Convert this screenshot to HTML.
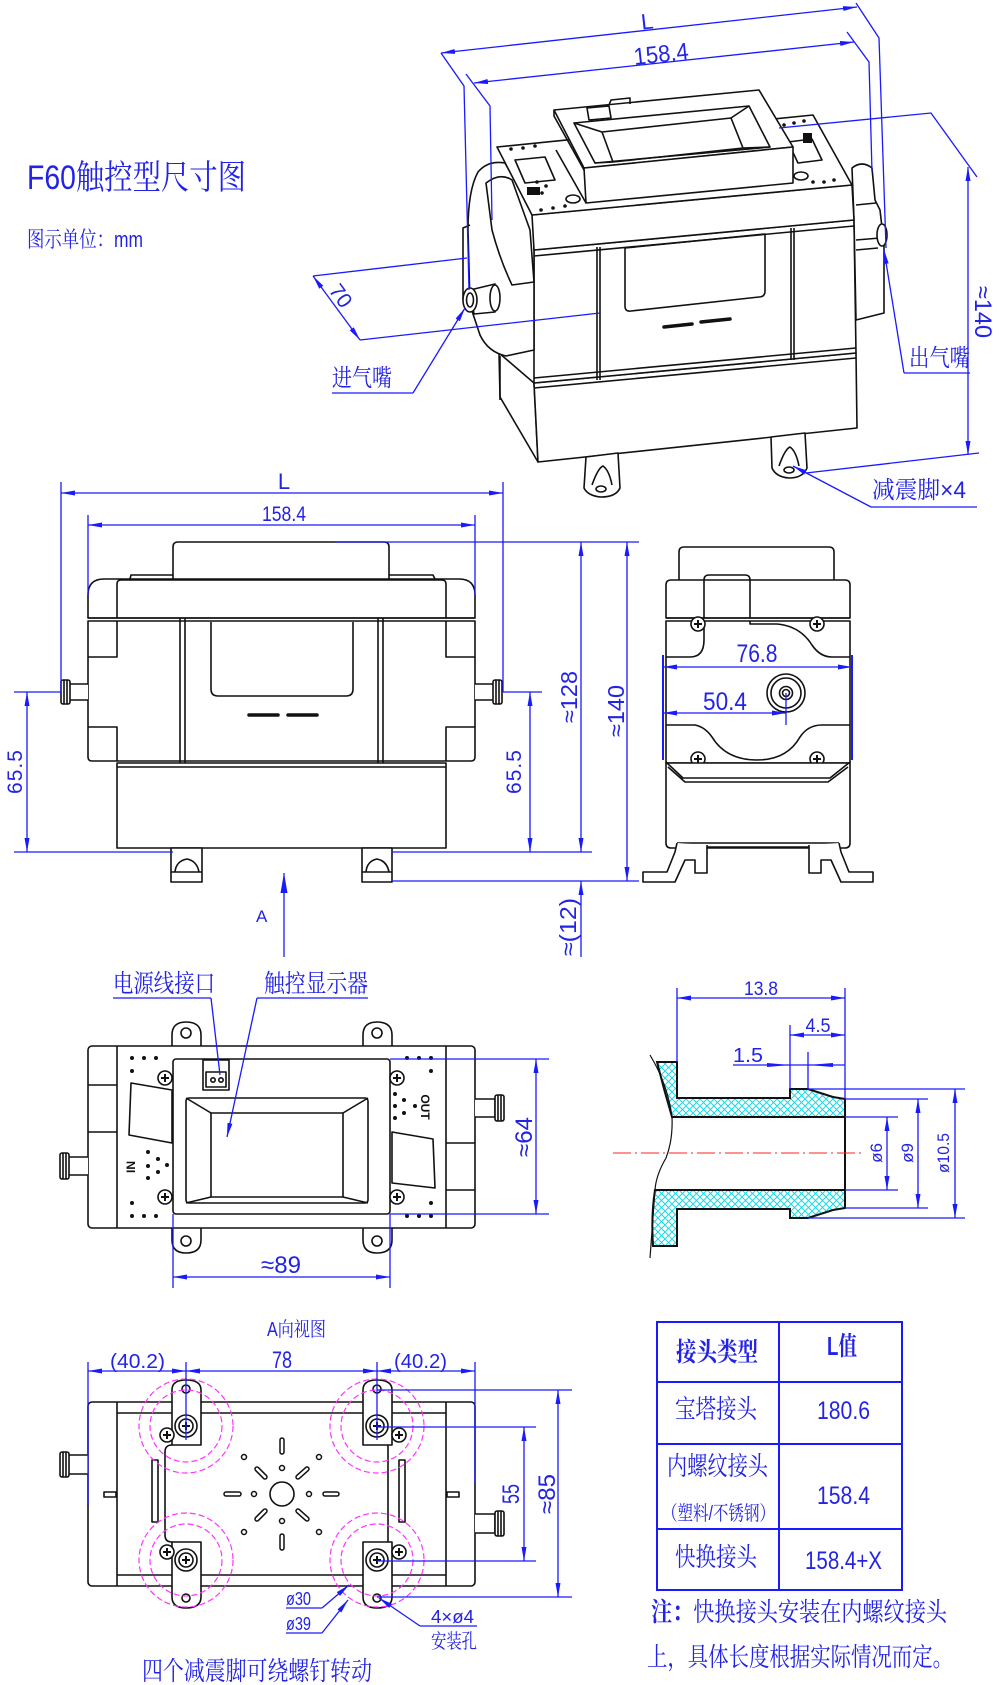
<!DOCTYPE html>
<html><head><meta charset="utf-8"><style>
html,body{margin:0;padding:0;background:#fff;}
svg{display:block;}
text{font-family:"Liberation Sans","Noto Serif CJK SC",serif;fill:#2323e6;}
.k{fill:none;stroke:#111;stroke-width:1.6;stroke-linejoin:round;}
.kw{fill:#fff;stroke:#111;stroke-width:1.6;stroke-linejoin:round;}
.b{fill:none;stroke:#1a1aff;stroke-width:1.3;}
.ba{fill:none;stroke:#1a1aff;stroke-width:1.3;marker-start:url(#ar);marker-end:url(#ar);}
.be{fill:none;stroke:#1a1aff;stroke-width:1.3;marker-end:url(#ar);}
.m{fill:none;stroke:#ff33ff;stroke-width:1.2;stroke-dasharray:6 3;}
</style></head><body>
<svg width="1000" height="1685" viewBox="0 0 1000 1685" xmlns="http://www.w3.org/2000/svg">
<defs>
<marker id="ar" viewBox="0 0 14 5" refX="14" refY="2.5" markerWidth="14" markerHeight="5" markerUnits="userSpaceOnUse" orient="auto-start-reverse"><path d="M0,0 L14,2.5 L0,5 z" fill="#1a1aff"/></marker>
<marker id="big" viewBox="0 0 20 7" refX="20" refY="3.5" markerWidth="20" markerHeight="7" markerUnits="userSpaceOnUse" orient="auto"><path d="M0,0 L20,3.5 L0,7 z" fill="#1a1aff"/></marker>
<pattern id="hx" patternUnits="userSpaceOnUse" width="7" height="7"><path d="M0,0 L7,7 M7,0 L0,7" stroke="#19d9e6" stroke-width="1"/></pattern>
<g id="scr"><circle r="7" fill="#fff" stroke="#111" stroke-width="1.6"/><path d="M-4,0 H4 M0,-4 V4" stroke="#111" stroke-width="2"/></g>
</defs>

<!-- Title -->
<text x="27" y="189" font-size="34" textLength="219" lengthAdjust="spacingAndGlyphs">F60触控型尺寸图</text>
<text x="27" y="247" font-size="22" textLength="116" lengthAdjust="spacingAndGlyphs">图示单位：mm</text>

<!-- ================= ISOMETRIC VIEW ================= -->
<g>
<polygon class="kw" points="499,353 534,383 538,462 500,397"/>
<polygon class="kw" points="534,383 856,353 857,428 538,462"/>
<polygon class="kw" points="534,250 854,220 856,353 534,383"/>
<path class="k" d="M534,256 L854,226 M534,378 L856,348 M534,388 L856,358"/>
<path class="k" d="M597,247 L597,380 M600,247 L600,380 M791,228 L791,360 M794,228 L794,360"/>
<path class="k" d="M625,248 L765,234 L765,291 Q765,297 759,297 L631,311 Q625,312 625,306 Z"/>
<path d="M664,327 L692,324 M701,322 L730,319" stroke="#111" stroke-width="3.5" stroke-linecap="round"/>
<path class="kw" d="M534,215 L534,350 L506,356 Q488,352 480,335 L470,305 L468,230 Q468,190 478,172 Q488,160 505,163 L520,190 Z"/>
<path class="k" d="M486,183 Q500,172 512,180 L530,230 L534,282 L512,285 Q500,260 492,230 Z"/>
<path class="k" d="M470,225 L463,228 L463,300 M500,356 L500,400"/>
<path class="kw" d="M470,290 L495,284 L495,312 L474,314 Z"/>
<ellipse cx="495" cy="298" rx="5" ry="13" class="kw"/>
<ellipse cx="470" cy="300" rx="7" ry="12" class="kw"/>
<ellipse cx="470" cy="300" rx="3.5" ry="7" class="k"/>
<path class="kw" d="M852,168 Q862,160 872,168 L875,200 L880,210 L884,245 L884,313 L856,320 L854,220 Z"/>
<path class="k" d="M856,205 L876,203 M856,240 L880,238 M856,250 L878,248"/>
<ellipse cx="882" cy="235" rx="5" ry="11" class="kw"/>
<polygon class="kw" points="532,215 852,185 854,220 534,250"/>
<polygon class="kw" points="497,147 813,115 852,185 532,215"/>
<path class="k" d="M515,160 L545,157 L555,180 L525,183 Z M788,142 L812,139 L822,160 L798,163 Z"/>
<polygon class="kw" points="554,110 759,90 793,147 584,168"/>
<polygon class="kw" points="584,168 793,147 793,183 586,203"/>
<path class="k" d="M554,110 L554,116 L584,170 M586,203 L556,150"/>
<polygon class="k" points="574,123 749,106 770,147 595,163"/>
<polygon class="k" points="602,132 731,118 743,148 613,162"/>
<path class="k" d="M574,123 L602,132 M749,106 L731,118 M770,147 L743,148 M595,163 L613,162"/>
<path class="kw" d="M587,108 L609,106 L611,118 L589,120 Z"/>
<path class="k" d="M609,105 L611,100 L630,98 L630,104"/>
<g fill="#111">
<circle cx="511" cy="149" r="1.8"/><circle cx="523" cy="148" r="1.8"/><circle cx="535" cy="146" r="1.8"/>
<circle cx="537" cy="182" r="1.8"/><circle cx="546" cy="186" r="1.8"/><circle cx="542" cy="193" r="1.8"/>
<circle cx="541" cy="210" r="1.8"/><circle cx="553" cy="208" r="1.8"/><circle cx="565" cy="206" r="1.8"/>
<circle cx="784" cy="125" r="1.8"/><circle cx="794" cy="123" r="1.8"/><circle cx="804" cy="121" r="1.8"/>
<circle cx="813" cy="182" r="1.8"/><circle cx="824" cy="182" r="1.8"/><circle cx="834" cy="180" r="1.8"/>
<rect x="527" y="187" width="13" height="8"/><rect x="803" y="133" width="9" height="10"/>
</g>
<ellipse cx="573" cy="199" rx="7" ry="4" class="k"/>
<ellipse cx="801" cy="176" rx="7" ry="4" class="k"/>
<path class="kw" d="M586,457 L618,453 L620,488 Q616,497 601,497 Q588,496 584,488 Z"/>
<path class="k" d="M592,485 Q598,468 603,466 Q609,470 612,485"/>
<ellipse cx="601" cy="489" rx="5" ry="3" class="k"/>
<path class="kw" d="M771,437 L805,433 L807,468 Q803,478 789,478 Q776,477 772,468 Z"/>
<path class="k" d="M779,466 Q785,449 790,447 Q796,451 799,466"/>
<ellipse cx="789" cy="470" rx="5" ry="3" class="k"/>
</g>
<line class="ba" x1="441" y1="53" x2="857" y2="7"/>
<text transform="translate(648,29) rotate(-6.3)" font-size="22" text-anchor="middle">L</text>
<line class="ba" x1="474" y1="83" x2="854" y2="42"/>
<text transform="translate(662,62) rotate(-6.2)" font-size="24" text-anchor="middle" textLength="55" lengthAdjust="spacingAndGlyphs">158.4</text>
<polyline class="b" points="441,53 464,86 469,290"/>
<polyline class="b" points="466,74 490,106 492,220"/>
<polyline class="b" points="856,3 879,38 886,248"/>
<polyline class="b" points="847,32 869,62 872,172"/>
<line class="b" x1="313" y1="276" x2="467" y2="258"/>
<line class="b" x1="360" y1="340" x2="600" y2="313"/>
<line class="ba" x1="313" y1="276" x2="360" y2="340"/>
<text transform="translate(335,300) rotate(54)" font-size="21" text-anchor="middle">70</text>
<text x="332" y="386" font-size="24" textLength="60" lengthAdjust="spacingAndGlyphs">进气嘴</text>
<line class="b" x1="332" y1="393" x2="413" y2="393"/>
<line class="be" x1="413" y1="393" x2="465" y2="308"/>
<text x="909" y="366" font-size="24" textLength="61" lengthAdjust="spacingAndGlyphs">出气嘴</text>
<line class="b" x1="904" y1="373" x2="970" y2="373"/>
<line class="be" x1="904" y1="373" x2="884" y2="250"/>
<polyline class="b" points="779,128 931,113 977,177"/>
<line class="b" x1="806" y1="473" x2="979" y2="453"/>
<line class="ba" x1="968" y1="167" x2="968" y2="455"/>
<text transform="translate(975,312) rotate(90)" font-size="24" text-anchor="middle" textLength="52" lengthAdjust="spacingAndGlyphs">≈140</text>
<text x="872" y="498" font-size="24" textLength="94" lengthAdjust="spacingAndGlyphs">减震脚×4</text>
<line class="b" x1="871" y1="507" x2="977" y2="507"/>
<line class="be" x1="871" y1="507" x2="793" y2="466"/>

<!-- ================= FRONT VIEW ================= -->
<g>
<path class="kw" d="M173,579 L173,547 Q173,542 178,542 L384,542 Q389,542 389,547 L389,579"/>
<path class="k" d="M130,579 L131,575 L173,575 M389,575 L433,575 L435,579"/>
<path class="kw" d="M88,618 L88,595 Q88,579 104,579 L459,579 Q475,579 475,595 L475,618 Z"/>
<path class="k" d="M117,618 L117,584 Q117,580 121,580 L442,580 Q446,580 446,584 L446,618"/>
<path class="kw" d="M88,621 L88,757 Q88,761 92,761 L471,761 Q475,761 475,757 L475,621 Z"/>
<path class="k" d="M88,618 L475,618"/>
<path class="k" d="M88,657 L117,657 L117,621 M88,727 L117,727 L117,761 M475,657 L446,657 L446,621 M475,727 L446,727 L446,761"/>
<path class="k" d="M180,618 L180,767 M185,618 L185,767 M378,618 L378,767 M383,618 L383,767"/>
<path class="k" d="M211,622 L211,689 Q211,696 218,696 L346,696 Q353,696 353,689 L353,622"/>
<path d="M249,715 L278,715 M288,715 L317,715" stroke="#111" stroke-width="3.5" stroke-linecap="round"/>
<rect x="117" y="763" width="329" height="85" class="kw"/>
<line class="k" x1="117" y1="767" x2="446" y2="767"/>
<rect x="171" y="848" width="31" height="34" class="kw"/>
<path class="k" d="M171,872 L202,872 M175,872 Q176,861 187,859 Q197,861 199,872"/>
<rect x="362" y="848" width="30" height="34" class="kw"/>
<path class="k" d="M362,872 L392,872 M366,872 Q367,861 377,859 Q387,861 389,872"/>
<path class="kw" d="M88,684 L69,684 L69,700 L88,700"/>
<rect x="61" y="680" width="9" height="24" rx="2" class="kw"/>
<path class="k" d="M64,680 L64,704 M67,680 L67,704"/>
<path class="kw" d="M475,684 L494,684 L494,700 L475,700"/>
<rect x="493" y="680" width="9" height="24" rx="2" class="kw"/>
<path class="k" d="M496,680 L496,704 M499,680 L499,704"/>
</g>
<line class="ba" x1="61" y1="493" x2="503" y2="493"/>
<text x="284" y="489" font-size="22" text-anchor="middle">L</text>
<line class="b" x1="61" y1="482" x2="61" y2="692"/>
<line class="b" x1="503" y1="482" x2="503" y2="692"/>
<line class="ba" x1="88" y1="525" x2="475" y2="525"/>
<text x="284" y="521" font-size="21" text-anchor="middle" textLength="44" lengthAdjust="spacingAndGlyphs">158.4</text>
<line class="b" x1="88" y1="515" x2="88" y2="595"/>
<line class="b" x1="475" y1="515" x2="475" y2="595"/>
<line class="b" x1="14" y1="692" x2="61" y2="692"/>
<line class="b" x1="14" y1="852" x2="173" y2="852"/>
<line class="ba" x1="27" y1="692" x2="27" y2="852"/>
<text transform="translate(22,772) rotate(-90)" font-size="21" text-anchor="middle" textLength="44" lengthAdjust="spacing">65.5</text>
<line class="b" x1="503" y1="692" x2="542" y2="692"/>
<line class="ba" x1="530" y1="692" x2="530" y2="852"/>
<text transform="translate(521,772) rotate(-90)" font-size="21" text-anchor="middle" textLength="44" lengthAdjust="spacing">65.5</text>
<line class="b" x1="392" y1="852" x2="592" y2="852"/>
<line class="b" x1="335" y1="542" x2="639" y2="542"/>
<line class="b" x1="392" y1="881" x2="639" y2="881"/>
<line class="ba" x1="581" y1="542" x2="581" y2="852"/>
<text transform="translate(577,697) rotate(-90)" font-size="23" text-anchor="middle" textLength="52" lengthAdjust="spacingAndGlyphs">≈128</text>
<line class="ba" x1="627" y1="542" x2="627" y2="881"/>
<text transform="translate(624,711) rotate(-90)" font-size="23" text-anchor="middle" textLength="52" lengthAdjust="spacingAndGlyphs">≈140</text>
<line class="be" x1="581" y1="957" x2="581" y2="881"/>
<text transform="translate(576,927) rotate(-90)" font-size="23" text-anchor="middle" textLength="58" lengthAdjust="spacingAndGlyphs">≈(12)</text>
<line x1="284" y1="957" x2="284" y2="873" stroke="#1a1aff" stroke-width="1.3" marker-end="url(#big)"/>
<text x="256" y="922" font-size="17">A</text>

<!-- ================= SIDE VIEW ================= -->
<g>
<path class="kw" d="M679,580 L679,552 Q679,547 684,547 L829,547 Q834,547 834,552 L834,580"/>
<path class="kw" d="M666,618 L666,585 Q666,580 671,580 L845,580 Q850,580 850,585 L850,618 Z"/>
<path class="k" d="M704,618 L704,580 Q704,575 709,575 L745,575 Q750,575 750,580 L750,618"/>
<path class="kw" d="M666,621 L850,621 L850,763 L666,763 Z"/>
<path class="k" d="M666,618 L850,618"/>
<path class="k" d="M704,621 L704,640 Q704,657 690,657 L666,657"/>
<path class="k" d="M750,621 L750,624 L777,624 Q800,626 812,645 Q820,657 832,657 L850,657"/>
<path class="k" d="M666,725 L695,725 Q705,727 712,737 Q726,760 757,760 Q787,760 800,737 Q808,725 822,725 L850,725"/>
<use href="#scr" x="698" y="624"/><use href="#scr" x="817" y="624"/>
<use href="#scr" x="698" y="759"/><use href="#scr" x="817" y="759"/>
<circle cx="786" cy="693" r="19" class="kw" stroke-width="2"/>
<circle cx="786" cy="693" r="15" class="k"/>
<circle cx="786" cy="693" r="6.5" class="k"/>
<circle cx="786" cy="693" r="3.5" class="k"/>
<path class="kw" d="M666,763 L666,843 Q666,848 671,848 L845,848 Q850,848 850,843 L850,763 Z"/>
<path class="k" d="M666,762 L683,778 L830,778 L850,762 M668,767 L685,782 L828,782 L848,767"/>
<path class="k" d="M677,843 L839,843 M707,847 L809,847"/>
<path class="kw" d="M677,843 L675,852 L667,872 L643,872 L643,882 L675,882 L685,860 L695,860 L695,873 L707,873 L707,845"/>
<path class="kw" d="M839,843 L841,852 L849,872 L873,872 L873,882 L841,882 L831,860 L821,860 L821,873 L809,873 L809,845"/>
</g>
<line x1="663" y1="655" x2="663" y2="760" stroke="#1a1aff" stroke-width="2"/>
<line x1="852" y1="655" x2="852" y2="760" stroke="#1a1aff" stroke-width="2"/>
<line class="ba" x1="663" y1="667" x2="852" y2="667"/>
<text x="757" y="662" font-size="25" text-anchor="middle" textLength="41" lengthAdjust="spacingAndGlyphs">76.8</text>
<line class="ba" x1="663" y1="713" x2="786" y2="713"/>
<line class="b" x1="786" y1="693" x2="786" y2="725"/>
<text x="725" y="710" font-size="25" text-anchor="middle" textLength="44" lengthAdjust="spacingAndGlyphs">50.4</text>

<!-- ================= TOUCH VIEW ================= -->
<g>
<path class="kw" d="M172,1046 L172,1035 Q172,1022 186,1022 Q201,1022 201,1035 L201,1046"/>
<path class="kw" d="M363,1046 L363,1035 Q363,1022 377,1022 Q392,1022 392,1035 L392,1046"/>
<path class="kw" d="M172,1228 L172,1240 Q172,1253 186,1253 Q201,1253 201,1240 L201,1228"/>
<path class="kw" d="M363,1228 L363,1240 Q363,1253 377,1253 Q392,1253 392,1240 L392,1228"/>
<circle cx="186" cy="1033" r="5" class="k"/><circle cx="377" cy="1033" r="5" class="k"/>
<circle cx="186" cy="1241" r="5" class="k"/><circle cx="377" cy="1241" r="5" class="k"/>
<rect x="88" y="1046" width="387" height="182" rx="4" class="kw"/>
<path class="k" d="M117,1046 L117,1228 M446,1046 L446,1228"/>
<path class="k" d="M88,1085 L117,1085 M88,1132 L117,1132 M446,1143 L475,1143 M446,1190 L475,1190"/>
<path class="k" d="M131,1083 L172,1090 L172,1143 L129,1135 Z"/>
<path class="k" d="M392,1132 L433,1139 L435,1188 L392,1183 Z"/>
<rect x="173" y="1059" width="217" height="155" rx="3" class="kw"/>
<rect x="186" y="1098" width="182" height="105" rx="3" class="k"/>
<rect x="211" y="1113" width="132" height="84" class="k"/>
<path class="k" d="M186,1098 L211,1113 M368,1098 L343,1113 M186,1203 L211,1197 M368,1203 L343,1197"/>
<rect x="203" y="1060" width="26" height="30" class="kw"/>
<rect x="206" y="1072" width="20" height="15" class="k"/>
<circle cx="213" cy="1080" r="2.2" class="k"/><circle cx="221" cy="1080" r="2.2" class="k"/>
<use href="#scr" x="165" y="1078"/><use href="#scr" x="165" y="1197"/>
<use href="#scr" x="397" y="1078"/><use href="#scr" x="397" y="1197"/>
<g fill="#111">
<circle cx="132" cy="1058" r="2"/><circle cx="144" cy="1058" r="2"/><circle cx="156" cy="1058" r="2"/><circle cx="132" cy="1071" r="2"/>
<circle cx="132" cy="1203" r="2"/><circle cx="132" cy="1216" r="2"/><circle cx="144" cy="1216" r="2"/><circle cx="156" cy="1216" r="2"/>
<circle cx="407" cy="1058" r="2"/><circle cx="419" cy="1058" r="2"/><circle cx="431" cy="1058" r="2"/><circle cx="431" cy="1071" r="2"/>
<circle cx="431" cy="1203" r="2"/><circle cx="407" cy="1216" r="2"/><circle cx="419" cy="1216" r="2"/><circle cx="431" cy="1216" r="2"/>
<circle cx="148" cy="1152" r="2"/><circle cx="158" cy="1159" r="2"/><circle cx="148" cy="1166" r="2"/><circle cx="158" cy="1172" r="2"/><circle cx="167" cy="1165" r="2"/><circle cx="148" cy="1178" r="2"/>
<circle cx="395" cy="1094" r="2"/><circle cx="395" cy="1106" r="2"/><circle cx="404" cy="1100" r="2"/><circle cx="415" cy="1106" r="2"/><circle cx="404" cy="1113" r="2"/><circle cx="395" cy="1118" r="2"/>
</g>
<text transform="translate(135,1167) rotate(-90)" font-size="12" font-weight="bold" text-anchor="middle" style="fill:#111">IN</text>
<text transform="translate(421,1107) rotate(90)" font-size="12" font-weight="bold" text-anchor="middle" style="fill:#111">OUT</text>
<path class="kw" d="M88,1157 L68,1157 L68,1175 L88,1175"/>
<rect x="60" y="1153" width="9" height="26" rx="2" class="kw"/>
<path class="k" d="M63,1153 L63,1179 M66,1153 L66,1179"/>
<path class="kw" d="M475,1099 L495,1099 L495,1117 L475,1117"/>
<rect x="495" y="1095" width="9" height="26" rx="2" class="kw"/>
<path class="k" d="M498,1095 L498,1121 M501,1095 L501,1121"/>
</g>
<text x="113" y="992" font-size="25" textLength="102" lengthAdjust="spacingAndGlyphs">电源线接口</text>
<line class="b" x1="113" y1="998" x2="211" y2="998"/>
<line class="b" x1="211" y1="998" x2="220" y2="1075"/>
<text x="264" y="992" font-size="25" textLength="104" lengthAdjust="spacingAndGlyphs">触控显示器</text>
<line class="b" x1="257" y1="998" x2="368" y2="998"/>
<line class="be" x1="257" y1="998" x2="227" y2="1137"/>
<line class="b" x1="390" y1="1059" x2="549" y2="1059"/>
<line class="b" x1="390" y1="1214" x2="549" y2="1214"/>
<line class="ba" x1="536" y1="1059" x2="536" y2="1214"/>
<text transform="translate(532,1137) rotate(-90)" font-size="24" text-anchor="middle" textLength="40" lengthAdjust="spacingAndGlyphs">≈64</text>
<line class="b" x1="173" y1="1214" x2="173" y2="1288"/>
<line class="b" x1="390" y1="1214" x2="390" y2="1288"/>
<line class="ba" x1="173" y1="1277" x2="390" y2="1277"/>
<text x="281" y="1273" font-size="24" text-anchor="middle" textLength="40" lengthAdjust="spacingAndGlyphs">≈89</text>

<!-- ================= CROSS SECTION ================= -->
<path d="M657,1062 L677,1062 L677,1098 L790,1098 L790,1089 L808,1089 L833,1097 L845,1099 L845,1117 L672,1117 Q664,1090 657,1062 Z" fill="url(#hx)" stroke="#111" stroke-width="2"/>
<path d="M655,1190 L845,1190 L845,1208 L833,1210 L808,1218 L790,1218 L790,1209 L677,1209 L677,1246 L653,1246 Q651,1215 655,1190 Z" fill="url(#hx)" stroke="#111" stroke-width="2"/>
<path d="M650,1055 Q668,1085 672,1117 Q673,1140 666,1158 Q656,1175 655,1190 Q652,1230 650,1258" fill="none" stroke="#111" stroke-width="1.2"/>
<line x1="845" y1="1117" x2="845" y2="1190" stroke="#111" stroke-width="2"/>
<line x1="613" y1="1153" x2="863" y2="1153" stroke="#ff2020" stroke-width="1" stroke-dasharray="18 4 2 4"/>
<line class="b" x1="677" y1="988" x2="677" y2="1062"/>
<line class="b" x1="845" y1="988" x2="845" y2="1099"/>
<line class="ba" x1="677" y1="998" x2="845" y2="998"/>
<text x="761" y="995" font-size="19" text-anchor="middle" textLength="34" lengthAdjust="spacingAndGlyphs">13.8</text>
<line class="b" x1="790" y1="1025" x2="790" y2="1089"/>
<line class="ba" x1="790" y1="1035" x2="845" y2="1035"/>
<text x="818" y="1032" font-size="19" text-anchor="middle" textLength="25" lengthAdjust="spacingAndGlyphs">4.5</text>
<line class="b" x1="808" y1="1052" x2="808" y2="1089"/>
<line class="b" x1="733" y1="1065" x2="845" y2="1065"/>
<path d="M767,1063 L790,1065 L767,1067 Z M833,1063 L808,1065 L833,1067 Z" fill="#1a1aff"/>
<text x="733" y="1062" font-size="20" textLength="30" lengthAdjust="spacingAndGlyphs">1.5</text>
<line class="b" x1="845" y1="1117" x2="898" y2="1117"/>
<line class="b" x1="845" y1="1190" x2="898" y2="1190"/>
<line class="ba" x1="887" y1="1117" x2="887" y2="1190"/>
<text transform="translate(882,1153) rotate(-90)" font-size="17" text-anchor="middle">ø6</text>
<line class="b" x1="845" y1="1099" x2="928" y2="1099"/>
<line class="b" x1="845" y1="1208" x2="928" y2="1208"/>
<line class="ba" x1="918" y1="1099" x2="918" y2="1208"/>
<text transform="translate(913,1153) rotate(-90)" font-size="17" text-anchor="middle">ø9</text>
<line class="b" x1="808" y1="1089" x2="965" y2="1089"/>
<line class="b" x1="808" y1="1218" x2="965" y2="1218"/>
<line class="ba" x1="955" y1="1089" x2="955" y2="1218"/>
<text transform="translate(949,1153) rotate(-90)" font-size="17" text-anchor="middle" textLength="40" lengthAdjust="spacingAndGlyphs">ø10.5</text>

<!-- ================= A VIEW ================= -->
<text x="267" y="1336" font-size="20" textLength="59" lengthAdjust="spacingAndGlyphs">A向视图</text>
<g>
<rect x="88" y="1402" width="387" height="184" rx="4" class="kw"/>
<path class="k" d="M117,1402 L117,1586 M446,1402 L446,1586 M117,1413 L446,1413 M117,1575 L446,1575"/>
<path class="k" d="M172,1445 Q165,1445 165,1452 L165,1535 Q165,1542 172,1542 M388,1445 L388,1542"/>
<rect x="152" y="1460" width="6" height="62" class="k"/>
<rect x="399" y="1460" width="6" height="62" class="k"/>
<rect x="104" y="1492" width="12" height="5" class="k"/>
<rect x="447" y="1492" width="12" height="5" class="k"/>
<path class="kw" d="M88,1455 L68,1455 L68,1474 L88,1474"/>
<rect x="60" y="1452" width="9" height="25" rx="2" class="kw"/>
<path class="k" d="M63,1452 L63,1477 M66,1452 L66,1477"/>
<path class="kw" d="M475,1514 L495,1514 L495,1533 L475,1533"/>
<rect x="495" y="1511" width="9" height="25" rx="2" class="kw"/>
<path class="k" d="M498,1511 L498,1536 M501,1511 L501,1536"/>
<circle cx="282" cy="1494" r="12" class="k" stroke-width="2"/>
<g fill="#fff" stroke="#111" stroke-width="1.5">
<circle cx="282" cy="1468" r="2.5"/><circle cx="282" cy="1521" r="2.5"/><circle cx="254" cy="1494" r="2.5"/><circle cx="309" cy="1494" r="2.5"/>
<circle cx="244" cy="1457" r="2.5"/><circle cx="319" cy="1457" r="2.5"/><circle cx="244" cy="1532" r="2.5"/><circle cx="319" cy="1532" r="2.5"/>
</g>
<path d="M282,1440 L282,1452 M282,1536 L282,1548 M226,1494 L239,1494 M325,1494 L337,1494 M257,1469 L265,1477 M298,1477 L307,1469 M257,1519 L265,1511 M298,1511 L307,1519" stroke="#111" stroke-width="5.5" stroke-linecap="round"/>
<path d="M282,1440 L282,1452 M282,1536 L282,1548 M226,1494 L239,1494 M325,1494 L337,1494 M257,1469 L265,1477 M298,1477 L307,1469 M257,1519 L265,1511 M298,1511 L307,1519" stroke="#fff" stroke-width="2.5" stroke-linecap="round"/>
<path class="kw" d="M172,1445 L172,1390 Q172,1380 186,1380 Q201,1380 201,1390 L201,1445 Z"/>
<path class="kw" d="M363,1445 L363,1390 Q363,1380 377,1380 Q392,1380 392,1390 L392,1445 Z"/>
<path class="kw" d="M172,1542 L172,1597 Q172,1608 186,1608 Q201,1608 201,1597 L201,1542 Z"/>
<path class="kw" d="M363,1542 L363,1597 Q363,1608 377,1608 Q392,1608 392,1597 L392,1542 Z"/>
<circle cx="186" cy="1389" r="4" class="k"/><circle cx="377" cy="1389" r="4" class="k"/>
<circle cx="186" cy="1598" r="4" class="k"/><circle cx="377" cy="1598" r="4" class="k"/>
<circle cx="186" cy="1426" r="11" class="k"/><circle cx="377" cy="1426" r="11" class="k"/>
<circle cx="186" cy="1560" r="11" class="k"/><circle cx="377" cy="1560" r="11" class="k"/>
<use href="#scr" x="186" y="1426"/><use href="#scr" x="377" y="1426"/>
<use href="#scr" x="186" y="1560"/><use href="#scr" x="377" y="1560"/>
<use href="#scr" x="167" y="1435"/><use href="#scr" x="399" y="1435"/>
<use href="#scr" x="167" y="1552"/><use href="#scr" x="399" y="1552"/>
</g>
<g>
<circle cx="186" cy="1426" r="47" class="m"/><circle cx="186" cy="1426" r="36" class="m"/>
<circle cx="377" cy="1426" r="47" class="m"/><circle cx="377" cy="1426" r="36" class="m"/>
<circle cx="186" cy="1560" r="47" class="m"/><circle cx="186" cy="1560" r="36" class="m"/>
<circle cx="377" cy="1560" r="47" class="m"/><circle cx="377" cy="1560" r="36" class="m"/>
</g>
<line class="b" x1="88" y1="1362" x2="88" y2="1505"/>
<line class="b" x1="186" y1="1362" x2="186" y2="1440"/>
<line class="b" x1="377" y1="1362" x2="377" y2="1440"/>
<line class="b" x1="475" y1="1362" x2="475" y2="1483"/>
<line class="ba" x1="88" y1="1371" x2="186" y2="1371"/>
<line class="ba" x1="186" y1="1371" x2="377" y2="1371"/>
<line class="ba" x1="377" y1="1371" x2="475" y2="1371"/>
<text x="110" y="1368" font-size="20" textLength="55" lengthAdjust="spacingAndGlyphs">(40.2)</text>
<text x="272" y="1368" font-size="24" textLength="20" lengthAdjust="spacingAndGlyphs">78</text>
<text x="394" y="1368" font-size="20" textLength="53" lengthAdjust="spacingAndGlyphs">(40.2)</text>
<line class="b" x1="377" y1="1427" x2="536" y2="1427"/>
<line class="b" x1="377" y1="1561" x2="536" y2="1561"/>
<line class="ba" x1="524" y1="1427" x2="524" y2="1561"/>
<text transform="translate(519,1494) rotate(-90)" font-size="24" text-anchor="middle" textLength="20" lengthAdjust="spacingAndGlyphs">55</text>
<line class="b" x1="377" y1="1390" x2="572" y2="1390"/>
<line class="b" x1="377" y1="1597" x2="572" y2="1597"/>
<line class="ba" x1="558" y1="1390" x2="558" y2="1597"/>
<text transform="translate(555,1494) rotate(-90)" font-size="24" text-anchor="middle" textLength="40" lengthAdjust="spacingAndGlyphs">≈85</text>
<text x="286" y="1605" font-size="18" textLength="25" lengthAdjust="spacingAndGlyphs">ø30</text>
<line class="b" x1="286" y1="1608" x2="322" y2="1608"/>
<line class="be" x1="322" y1="1608" x2="349" y2="1585"/>
<text x="286" y="1630" font-size="18" textLength="25" lengthAdjust="spacingAndGlyphs">ø39</text>
<line class="b" x1="286" y1="1633" x2="322" y2="1633"/>
<line class="be" x1="322" y1="1633" x2="348" y2="1600"/>
<text x="431" y="1623" font-size="18" textLength="43" lengthAdjust="spacingAndGlyphs">4×ø4</text>
<line class="b" x1="420" y1="1626" x2="477" y2="1626"/>
<line class="be" x1="420" y1="1626" x2="379" y2="1598"/>
<text x="431" y="1648" font-size="20" textLength="46" lengthAdjust="spacingAndGlyphs">安装孔</text>
<text x="142" y="1680" font-size="26" textLength="230" lengthAdjust="spacingAndGlyphs">四个减震脚可绕螺钉转动</text>

<!-- ================= TABLE ================= -->
<g fill="none" stroke="#1a1aff" stroke-width="2">
<rect x="657" y="1322" width="245" height="268"/>
<line x1="779" y1="1322" x2="779" y2="1590"/>
<line x1="657" y1="1382" x2="902" y2="1382"/>
<line x1="657" y1="1444" x2="902" y2="1444"/>
<line x1="657" y1="1529" x2="902" y2="1529"/>
</g>
<text x="676" y="1361" font-size="26" font-weight="bold" textLength="82" lengthAdjust="spacingAndGlyphs">接头类型</text>
<text x="827" y="1355" font-size="26" font-weight="bold" textLength="30" lengthAdjust="spacingAndGlyphs">L值</text>
<text x="675" y="1418" font-size="26" textLength="82" lengthAdjust="spacingAndGlyphs">宝塔接头</text>
<text x="817" y="1419" font-size="25" textLength="53" lengthAdjust="spacingAndGlyphs">180.6</text>
<text x="667" y="1475" font-size="26" textLength="101" lengthAdjust="spacingAndGlyphs">内螺纹接头</text>
<text x="662" y="1520" font-size="20" textLength="113" lengthAdjust="spacingAndGlyphs">（塑料/不锈钢）</text>
<text x="817" y="1504" font-size="25" textLength="53" lengthAdjust="spacingAndGlyphs">158.4</text>
<text x="675" y="1566" font-size="26" textLength="82" lengthAdjust="spacingAndGlyphs">快换接头</text>
<text x="805" y="1569" font-size="25" textLength="77" lengthAdjust="spacingAndGlyphs">158.4+X</text>
<text x="651" y="1621" font-size="26" textLength="296" lengthAdjust="spacingAndGlyphs"><tspan font-weight="bold">注：</tspan>快换接头安装在内螺纹接头</text>
<text x="647" y="1666" font-size="26" textLength="306" lengthAdjust="spacingAndGlyphs">上，具体长度根据实际情况而定。</text>
</svg>
</body></html>
